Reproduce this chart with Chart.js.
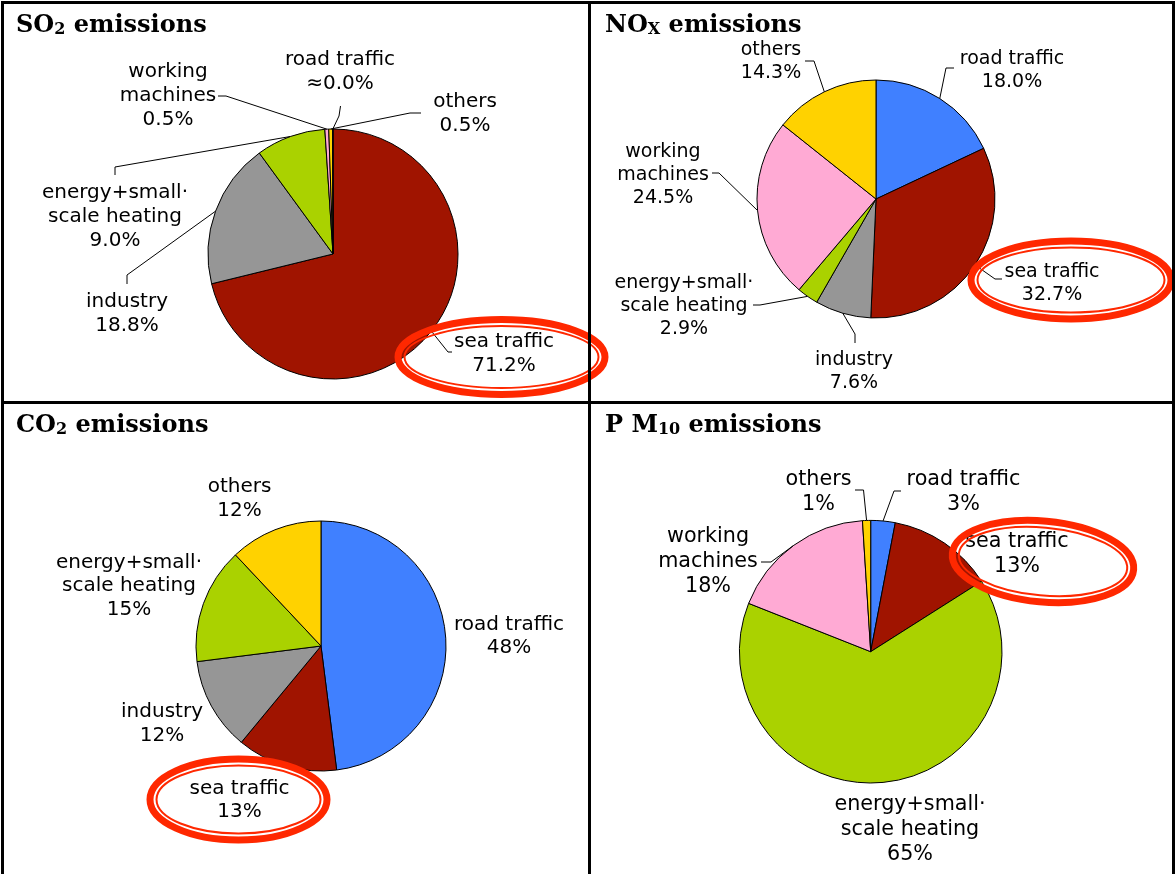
<!DOCTYPE html>
<html>
<head>
<meta charset="utf-8">
<script src="https://cdn.jsdelivr.net/npm/chart.js@4.4.0/dist/chart.umd.min.js"></script>
<style>
  body { margin: 0; background: #fff; }
  #page { position: relative; width: 1176px; height: 874px; overflow: hidden; background: #fff; }
  #page canvas { position: absolute; left: 0; top: 0; }
  .title { position: absolute; font-family: "DejaVu Serif", serif; font-weight: bold; font-size: 24px; line-height: 24px; color: #000; white-space: nowrap; }
  .title sub { font-size: 16px; line-height: 0; vertical-align: -2px; }
  .rule { position: absolute; background: #000; }
</style>
</head>
<body>
<div id="page">
  <canvas id="so2" width="1176" height="874"></canvas>
  <canvas id="nox" width="1176" height="874"></canvas>
  <canvas id="co2" width="1176" height="874"></canvas>
  <canvas id="pm10" width="1176" height="874"></canvas>

  <div class="title" style="left:16px;top:12px">SO<sub>2</sub> emissions</div>
  <div class="title" style="left:605px;top:12px">NO<sub>X</sub> emissions</div>
  <div class="title" style="left:16px;top:412px">CO<sub>2</sub> emissions</div>
  <div class="title" style="left:605px;top:412px">P M<sub>10</sub> emissions</div>

  <div class="rule" style="left:1px;top:1px;width:1174px;height:3px"></div>
  <div class="rule" style="left:1px;top:1px;width:3px;height:873px"></div>
  <div class="rule" style="left:1172px;top:1px;width:3px;height:873px"></div>
  <div class="rule" style="left:588px;top:1px;width:3px;height:873px"></div>
  <div class="rule" style="left:1px;top:401px;width:1174px;height:3px"></div>
</div>

<script>
// slices listed clockwise from 12 o'clock
const so2Labels = ['sea traffic', 'industry', 'energy+small·\nscale heating', 'working\nmachines', 'others', 'road traffic'];
const so2Values = [71.2, 18.8, 9.0, 0.5, 0.5, 0.04];

const noxLabels = ['road traffic', 'sea traffic', 'industry', 'energy+small·\nscale heating', 'working\nmachines', 'others'];
const noxValues = [18.0, 32.7, 7.6, 2.9, 24.5, 14.3];

const co2Labels = ['road traffic', 'sea traffic', 'industry', 'energy+small·\nscale heating', 'others'];
const co2Values = [48, 13, 12, 15, 12];

const pm10Labels = ['road traffic', 'sea traffic', 'energy+small·\nscale heating', 'working\nmachines', 'others'];
const pm10Values = [3, 13, 65, 18, 1];

const W = 1176, H = 874;

const sliceColors = {
  'road traffic': '#4080ff',
  'sea traffic': '#a01400',
  'industry': '#969696',
  'energy+small·\nscale heating': '#aad200',
  'working\nmachines': '#ffaad4',
  'others': '#ffd200'
};

function fmtValue(v, decimals) {
  const s = v.toFixed(decimals) + '%';
  return (v > 0 && v < 0.05) ? '≈' + s : s;
}

// text labels, leader lines and the red highlight ring around "sea traffic"
const calloutPlugin = {
  id: 'callouts',
  afterDatasetsDraw(chart, args, opts) {
    const ctx = chart.ctx;
    const meta = chart.getDatasetMeta(0);
    const values = chart.data.datasets[0].data;
    ctx.save();
    ctx.font = opts.fontSize + 'px "DejaVu Sans"';
    ctx.fillStyle = '#000';
    ctx.textAlign = 'center';
    ctx.textBaseline = 'middle';
    chart.data.labels.forEach((label, i) => {
      const place = opts.places[i];
      const arc = meta.data[i];
      const lines = label.split('\n').concat(fmtValue(values[i], opts.decimals));
      lines.forEach((t, k) => ctx.fillText(t, place.x, place.y + k * opts.lineHeight));
      if (place.leader) {
        const mid = (arc.startAngle + arc.endAngle) / 2;
        const pts = place.leader.concat([[arc.x + Math.cos(mid) * arc.outerRadius, arc.y + Math.sin(mid) * arc.outerRadius]]);
        ctx.beginPath();
        ctx.lineWidth = 1;
        ctx.strokeStyle = '#000';
        pts.forEach((p, k) => k ? ctx.lineTo(p[0], p[1]) : ctx.moveTo(p[0], p[1]));
        ctx.stroke();
      }
    });

    const r = opts.ring;
    ctx.strokeStyle = '#ff2800';
    ctx.lineWidth = 7;
    ctx.beginPath();
    ctx.ellipse(r.x, r.y, r.rx, r.ry, r.rot, 0, Math.PI * 2);
    ctx.stroke();
    ctx.lineWidth = 2;
    ctx.beginPath();
    ctx.ellipse(r.x, r.y, r.rx - 6.5, r.ry - 6.5, r.rot, 0, Math.PI * 2);
    ctx.stroke();
    ctx.restore();
  }
};

function makePie(id, labels, values, layout) {
  const [cx, cy] = layout.center;
  const r = layout.radius;
  return new Chart(document.getElementById(id), {
    type: 'pie',
    data: {
      labels: labels,
      datasets: [{
        data: values,
        backgroundColor: labels.map(l => sliceColors[l]),
        borderColor: '#000',
        borderWidth: 1,
        hoverBorderWidth: 1,
        offset: 0,
        hoverOffset: 0
      }]
    },
    options: {
      responsive: false,
      animation: false,
      events: [],
      layout: {
        padding: {
          left: cx - r - 0.5,
          top: cy - r - 0.5,
          right: W - cx - r - 0.5,
          bottom: H - cy - r - 0.5
        }
      },
      plugins: {
        legend: { display: false },
        tooltip: { enabled: false },
        callouts: layout
      }
    },
    plugins: [calloutPlugin]
  });
}

makePie('so2', so2Labels, so2Values, {
  center: [333, 254], radius: 125, fontSize: 20, lineHeight: 24, decimals: 1,
  places: [
    { x: 504, y: 342, leader: [[452, 352], [448, 352]] },
    { x: 127, y: 302, leader: [[127, 284], [127, 275]] },
    { x: 115, y: 193, leader: [[115, 175], [115, 167]] },
    { x: 168, y: 72, leader: [[218, 96], [226, 96]] },
    { x: 465, y: 102, leader: [[421, 113], [410, 113]] },
    { x: 340, y: 60, leader: [[340.5, 106], [339, 116]] }
  ],
  ring: { x: 501.5, y: 357, rx: 103.5, ry: 37.5, rot: 0 }
});

makePie('nox', noxLabels, noxValues, {
  center: [876, 199], radius: 119, fontSize: 19, lineHeight: 23, decimals: 1,
  places: [
    { x: 1012, y: 59.5, leader: [[954, 68], [946, 68]] },
    { x: 1052, y: 272, leader: [[1002, 279], [995, 279]] },
    { x: 854, y: 360, leader: [[855, 343], [855, 334]] },
    { x: 684, y: 283.5, leader: [[753, 305], [760, 305]] },
    { x: 663, y: 152, leader: [[712, 173], [719, 173]] },
    { x: 771, y: 50, leader: [[805, 61], [814, 61]] }
  ],
  ring: { x: 1071, y: 280, rx: 100, ry: 39, rot: 0 }
});

makePie('co2', co2Labels, co2Values, {
  center: [321, 646], radius: 125, fontSize: 20, lineHeight: 23.5, decimals: 0,
  places: [
    { x: 509, y: 624.5 },
    { x: 239.5, y: 788.5 },
    { x: 162, y: 712 },
    { x: 129, y: 562.5 },
    { x: 239.5, y: 487 }
  ],
  ring: { x: 238.5, y: 799.5, rx: 88.5, ry: 40.5, rot: 0 }
});

makePie('pm10', pm10Labels, pm10Values, {
  center: [870.7, 651.7], radius: 131.3, fontSize: 20.7, lineHeight: 25, decimals: 0,
  places: [
    { x: 963.5, y: 480, leader: [[901, 491], [894, 491]] },
    { x: 1017, y: 542 },
    { x: 910, y: 805 },
    { x: 708, y: 537, leader: [[761, 562], [771, 562]] },
    { x: 818.5, y: 479.5, leader: [[855, 490], [863.5, 490]] }
  ],
  ring: { x: 1043, y: 561.5, rx: 91, ry: 40.5, rot: 0.09 }
});
</script>
</body>
</html>
